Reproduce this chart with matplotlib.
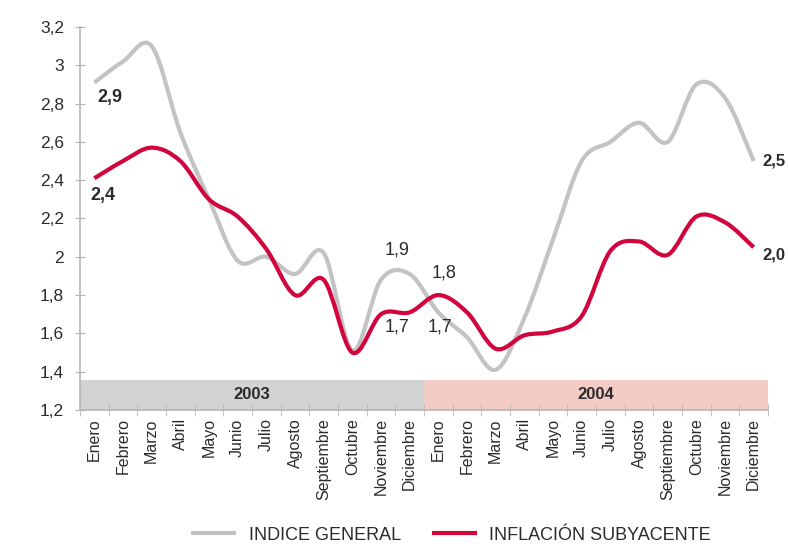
import numpy as np
import matplotlib
matplotlib.use("Agg")
import matplotlib.pyplot as plt
from matplotlib.path import Path
from matplotlib.patches import PathPatch, Rectangle
from matplotlib.lines import Line2D

# Data
meses = ["Enero", "Febrero", "Marzo", "Abril", "Mayo", "Junio", "Julio",
         "Agosto", "Septiembre", "Octubre", "Noviembre", "Diciembre"]
anios = ["2003", "2004"]
indice_general = [2.91, 3.02, 3.1, 2.65, 2.3, 1.98, 2.0, 1.91, 2.02, 1.51, 1.88, 1.91,
                  1.71, 1.58, 1.41, 1.68, 2.09, 2.5, 2.6, 2.7, 2.6, 2.9, 2.83, 2.5]
subyacente = [2.41, 2.5, 2.57, 2.5, 2.3, 2.21, 2.04, 1.8, 1.88, 1.5, 1.7, 1.71,
              1.8, 1.71, 1.52, 1.59, 1.61, 1.69, 2.03, 2.08, 2.01, 2.21, 2.18, 2.05]

GRIS = "#c3c3c5"
ROJO = "#d2043d"
TEXTO = "#2b2b2b"
plt.rcParams["font.family"] = ["Liberation Sans Narrow", "Liberation Sans", "DejaVu Sans"]


def curva_suave(x, y):
    # Excel-style smooth line: Catmull-Rom converted to cubic Bezier segments
    x = np.asarray(x, float)
    y = np.asarray(y, float)
    p = np.column_stack([x, y])
    pe = np.vstack([p[0], p, p[-1]])
    verts = [p[0]]
    codes = [Path.MOVETO]
    for i in range(len(p) - 1):
        c1 = pe[i + 1] + (pe[i + 2] - pe[i]) / 6
        c2 = pe[i + 2] - (pe[i + 3] - pe[i + 1]) / 6
        verts += [c1, c2, pe[i + 2]]
        codes += [Path.CURVE4] * 3
    return Path(verts, codes)


fig = plt.figure(figsize=(7.88, 5.46), dpi=100)
ax = fig.add_axes([80 / 788, 1 - 410 / 546, 688 / 788, 383 / 546])

x = np.arange(len(indice_general))
for serie, color in [(indice_general, GRIS), (subyacente, ROJO)]:
    ax.add_patch(PathPatch(curva_suave(x, serie), fill=False, edgecolor=color,
                           lw=3.0, capstyle="butt", joinstyle="round", zorder=3))

# year bands
alto_banda = 0.157
ax.add_patch(Rectangle((-0.5, 1.2), 12, alto_banda, facecolor="#d2d2d4",
                       edgecolor="none", zorder=1))
ax.add_patch(Rectangle((11.5, 1.2), 12, alto_banda, facecolor="#f3cbc5",
                       edgecolor="none", zorder=1))
for i, anio in enumerate(anios):
    ax.text(5.5 + 12 * i, 1.2 + alto_banda / 2, anio, ha="center", va="center",
            fontsize=12, fontweight="bold", color=TEXTO)

ax.set_xlim(-0.5, 23.5)
ax.set_ylim(1.2, 3.2)

yt = np.round(np.arange(1.2, 3.21, 0.2), 1)
ax.set_yticks(yt)
ax.set_yticklabels([f"{v:g}".replace(".", ",") for v in yt], fontsize=12.5, color=TEXTO)
ax.set_xticks(x)
ax.set_xticklabels(meses * 2, rotation=90, fontsize=11.5, color=TEXTO)
ax.set_xticks(np.arange(-0.5, 24, 1), minor=True)
ax.tick_params(axis="x", which="major", length=0, pad=6)
ax.tick_params(axis="x", which="minor", direction="inout", length=8, color="#b5b5b5")
ax.tick_params(axis="y", direction="inout", length=7, color="#b5b5b5", pad=8)

for s in ["top", "right"]:
    ax.spines[s].set_visible(False)
for s in ["left", "bottom"]:
    ax.spines[s].set_color("#b5b5b5")
    ax.spines[s].set_linewidth(1.2)

# value annotations
etiquetas = [(0.55, 2.83, "2,9", "bold"), (0.3, 2.32, "2,4", "bold"),
             (10.56, 2.035, "1,9", "normal"), (10.56, 1.633, "1,7", "normal"),
             (12.2, 1.915, "1,8", "normal"), (12.06, 1.633, "1,7", "normal")]
for ex, ey, txt, peso in etiquetas:
    ax.text(ex, ey, txt, ha="center", va="center", fontsize=13,
            fontweight=peso, color=TEXTO)
ax.text(23.3, 2.50, "2,5", ha="left", va="center", fontsize=12,
        fontweight="bold", color=TEXTO, clip_on=False)
ax.text(23.3, 2.01, "2,0", ha="left", va="center", fontsize=12,
        fontweight="bold", color=TEXTO, clip_on=False)

handles = [Line2D([], [], color=GRIS, lw=3.0), Line2D([], [], color=ROJO, lw=3.0)]
fig.legend(handles, ["INDICE GENERAL", "INFLACIÓN SUBYACENTE"], loc="center",
           bbox_to_anchor=(452 / 788, 1 - 535 / 546), ncol=2, frameon=False,
           fontsize=13, handlelength=2.3, columnspacing=1.8, handletextpad=0.8,
           labelcolor=TEXTO)

fig.savefig("out.png", dpi=100)
